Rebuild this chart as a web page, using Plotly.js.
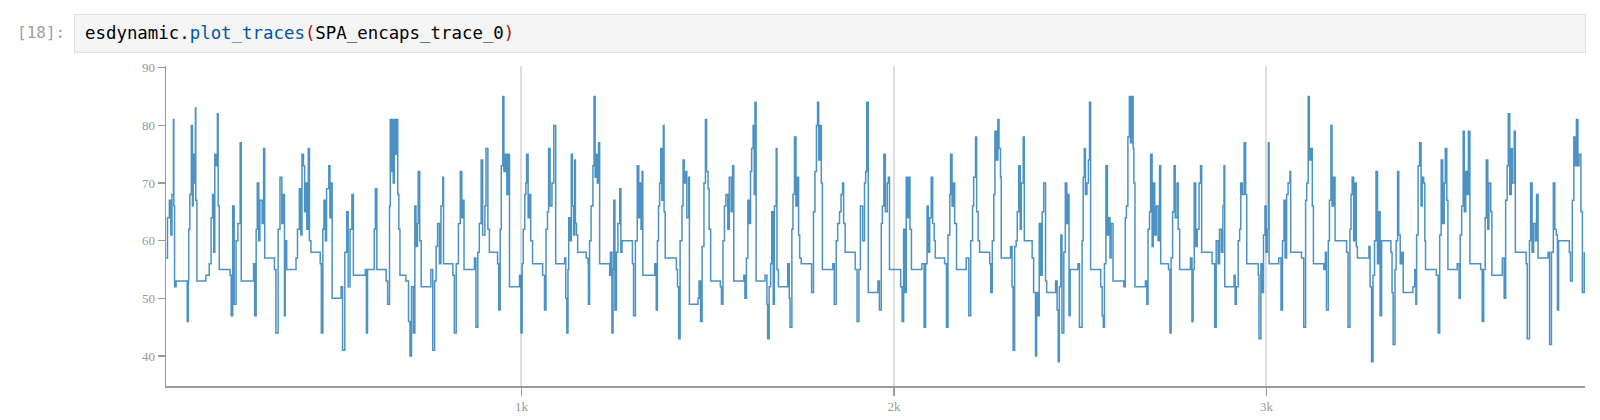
<!DOCTYPE html>
<html>
<head>
<meta charset="utf-8">
<script src="https://cdn.plot.ly/plotly-3.0.1.min.js"></script>
<style>
  html, body { margin:0; padding:0; background:#fff; width:1600px; height:420px; overflow:hidden; }
  #chart { position:absolute; left:0; top:0; width:1600px; height:420px; }
  #cell { position:absolute; left:0; top:0; width:1600px; height:64px; background:#fff; z-index:5; }
  #prompt { position:absolute; left:17px; top:23px; font-family:"DejaVu Sans Mono", monospace; font-size:16px; color:#a0a0a0; line-height:20px; }
  #box { position:absolute; left:74px; top:14px; width:1510px; height:37px; background:#f5f5f5; border:1px solid #e0e0e0; }
  #code { position:absolute; left:10px; top:8px; font-family:"DejaVu Sans Mono", monospace; font-size:17.4px; color:#000; line-height:21px; white-space:pre; }
  .fn { color:#0055aa; }
  .br { color:#aa1111; }
</style>
</head>
<body>
<div id="chart"></div>
<div id="cell">
  <div id="prompt">[18]:</div>
  <div id="box"><div id="code">esdynamic.<span class="fn">plot_traces</span><span class="br">(</span>SPA_encaps_trace_0<span class="br">)</span></div></div>
</div>
<script>
// Sample index of each step change, and the trace value from that sample on
const sampleIndex = [
46,50,55,59,62,66,67,69,73,103,106,107,110,114,117,119,122,125,126,129,153,162,167,171,174,177,180,184,186,189,
218,221,225,229,234,239,245,248,281,284,288,291,295,298,304,308,311,337,341,347,352,357,361,364,366,370,
395,399,404,408,411,415,418,422,424,428,431,435,460,463,467,470,474,477,483,486,489,492,
516,520,526,531,535,540,545,549,581,584,587,601,605,608,612,637,641,646,648,651,654,656,659,662,665,668,671,674,
690,697,701,705,710,714,717,721,723,727,731,757,762,767,771,775,780,784,789,791,816,820,825,831,836,840,842,846,
874,878,883,887,892,896,902,905,910,914,936,939,943,946,950,953,957,961,965,968,995,999,1002,1005,1009,1012,1014,1018,1021,1025,1030,
1057,1062,1066,1070,1073,1077,1082,1087,1089,1092,
1116,1119,1122,1125,1127,1131,1134,1137,1140,1143,1145,1148,1151,1174,1179,1180,1183,1187,1192,1195,1198,1202,1204,1207,1210,
1237,1239,1243,1246,1248,1251,1255,1259,1264,1267,1270,1298,1301,1306,1311,1315,1318,1321,1324,1326,
1358,1362,1365,1368,1371,1374,1377,1381,1383,1386,1416,1419,1422,1426,1431,1434,1437,1441,1444,1449,1451,
1474,1477,1481,1485,1490,1494,1497,1501,1504,1508,1534,1537,1541,1545,1549,1554,1558,1563,1567,1570,
1597,1600,1604,1608,1611,1615,1618,1622,1625,1627,1630,1654,1659,1661,1665,1669,1672,1676,1679,1684,1686,1690,
1715,1719,1721,1726,1729,1733,1737,1740,1744,1747,1751,1779,1784,1788,1792,1795,1798,1802,1805,1808,
1836,1840,1845,1849,1854,1858,1862,1865,1869,1896,1901,1906,1910,1916,1921,1924,1927,1931,
1957,1961,1966,1969,1973,1977,1982,1985,1988,2018,2022,2026,2030,2033,2037,2040,2043,2047,
2075,2081,2085,2089,2092,2096,2100,2104,2108,2111,2136,2141,2145,2150,2152,2156,2160,2163,2168,
2194,2201,2206,2211,2214,2219,2222,2226,2230,2257,2260,2264,2268,2271,2275,2279,2282,2286,2288,
2313,2317,2320,2324,2328,2331,2335,2339,2342,2347,2350,2371,2375,2380,2383,2387,2390,2394,2398,2402,2407,2410,
2434,2438,2441,2444,2448,2451,2456,2460,2464,2467,2470,2473,2494,2498,2505,2508,2511,2514,2518,2522,2525,2528,
2555,2559,2562,2565,2569,2573,2576,2580,2583,2588,2617,2621,2624,2628,2632,2635,2638,2642,2644,2647,
2675,2679,2682,2686,2689,2693,2696,2700,2704,2709,2713,2716,2737,2741,2744,2748,2752,2755,2760,2763,2767,
2796,2800,2803,2806,2810,2814,2819,2823,2826,2854,2861,2865,2870,2874,2879,2883,2886,2888,2913,2916,
2919,2924,2928,2931,2935,2940,2944,2947,2978,2980,2985,2988,2992,2996,2999,3002,3005,3007,
3033,3039,3043,3047,3050,3054,3058,3063,3065,3094,3100,3105,3108,3112,3115,3119,3123,3126,
3154,3158,3161,3166,3169,3173,3176,3180,3184,3215,3219,3224,3227,3230,3234,3237,3241,3244,
3275,3278,3282,3286,3290,3294,3298,3302,3305,3309,3334,3337,3340,3345,3348,3352,3355,3359,3363,3367,
3393,3398,3401,3403,3407,3411,3415,3418,3422,3425,3427,3456,3461,3465,3469,3473,3477,3480,3484,3487,
3512,3517,3520,3524,3528,3531,3535,3538,3542,3546,3575,3579,3583,3587,3590,3594,3597,3602,3605,
3633,3638,3642,3646,3649,3653,3657,3660,3665,3668,3697,3700,3706,3709,3713,3717,3722,3725,3729,
3756,3760,3765,3770,3774,3778,3781,3784,3813,3816,3821,3825,3828,3832,3836,3839,3844,3848,3853
];
const amplitude = [
57,64,67,61,68,81,66,52,53,46,53,62,68,80,66,75,70,83,67,53,54,56,64,68,58,75,73,82,66,55,
54,47,66,49,60,63,77,53,56,47,62,70,60,67,63,76,57,55,44,62,71,63,68,47,60,55,
57,62,69,61,75,73,65,70,62,76,60,58,56,44,62,67,60,69,73,64,70,50,
52,41,58,65,52,62,68,54,55,44,55,55,62,69,55,53,49,66,81,72,81,70,81,75,81,68,62,54,
53,46,40,52,44,66,59,63,72,60,52,55,41,53,59,63,56,66,71,56,54,44,56,63,72,64,67,55,
57,45,58,63,74,61,66,76,62,58,56,48,62,73,85,72,75,68,75,52,54,44,56,62,68,70,75,64,68,60,56,
54,48,62,65,76,66,70,80,80,56,
57,50,44,55,64,60,75,66,61,74,63,61,58,57,56,49,60,66,73,85,71,75,70,77,56,
54,58,44,55,67,48,58,63,69,58,60,56,47,60,73,64,70,62,72,54,
56,48,60,66,70,76,67,80,65,57,55,52,43,60,66,74,70,72,64,71,49,
50,53,46,59,70,81,72,69,62,53,52,49,60,66,68,62,71,65,73,53,
54,50,57,67,63,72,76,80,68,84,53,54,49,43,52,56,65,49,66,76,55,52,
56,50,45,62,68,78,66,71,61,57,56,51,65,72,80,84,74,80,70,55,
56,49,60,63,65,68,70,63,58,55,46,55,66,60,70,72,84,51,
53,48,63,66,75,65,70,71,55,52,46,62,51,71,64,71,62,55,
56,45,56,66,58,64,71,63,60,57,56,45,61,68,75,66,70,63,55,
57,47,60,66,71,78,65,60,58,56,51,60,68,79,74,81,76,71,57,
59,52,41,59,60,65,73,62,70,78,60,57,51,40,51,47,63,54,65,70,53,51,
53,48,39,52,61,44,58,70,63,68,47,55,56,45,60,71,76,68,70,74,84,55,
52,47,45,56,73,61,64,57,63,53,52,64,66,78,85,77,85,76,70,52,
53,49,62,65,75,59,70,61,66,60,73,56,55,44,57,65,73,64,70,62,55,
57,46,55,70,59,62,70,73,58,56,45,60,56,62,58,66,73,52,54,49,
52,60,62,70,68,77,68,56,54,43,56,51,61,66,58,62,77,56,
57,48,60,67,57,68,70,72,58,57,45,67,70,85,74,76,66,56,
55,58,48,60,67,80,66,71,60,58,45,62,68,71,60,70,59,57,
59,52,39,54,60,72,56,65,47,60,58,51,42,55,60,72,61,56,58,51,
52,55,49,61,73,77,66,71,70,60,55,54,44,61,74,63,70,76,67,55,
56,50,61,66,79,65,72,68,79,56,55,46,55,64,74,62,70,65,54,
57,50,67,73,82,68,76,70,79,58,56,43,60,70,58,63,60,68,57,
58,42,58,70,62,61,48,60,58,53,67,78,73,81,73,75,65,51,58
];
const xTickValues = [1000, 2000, 3000];
const xTickLabels = ['1k', '2k', '3k'];
const yTickValues = [40, 50, 60, 70, 80, 90];

const trace = {
  x: sampleIndex, y: amplitude, type: 'scatter', mode: 'lines',
  line: { color: '#1f77b4', width: 1.5, shape: 'hv' }, opacity: 0.8,
  hoverinfo: 'skip'
};
const axisFont = { family: '"Liberation Serif", serif', size: 13, color: '#999999' };
const layout = {
  width: 1600, height: 420,
  margin: { l: 166, r: 15, t: 66, b: 34 },
  paper_bgcolor: '#fff', plot_bgcolor: '#fff', showlegend: false,
  xaxis: {
    range: [46, 3855], showgrid: true, gridcolor: '#dedede', gridwidth: 2,
    tickvals: xTickValues, ticktext: xTickLabels, ticks: 'outside', ticklen: 8,
    tickcolor: '#9a9a9a', tickwidth: 1.5, showline: true, linecolor: '#9a9a9a', linewidth: 1.5,
    zeroline: false, tickfont: axisFont
  },
  yaxis: {
    range: [34.8, 90.3], showgrid: false, tickvals: yTickValues, ticks: 'outside', ticklen: 7,
    tickcolor: '#9a9a9a', tickwidth: 1.5, showline: true, linecolor: '#9a9a9a', linewidth: 1.5,
    zeroline: false, tickfont: axisFont
  }
};
Plotly.newPlot('chart', [trace], layout, { staticPlot: true, displayModeBar: false });
</script>
</body>
</html>
